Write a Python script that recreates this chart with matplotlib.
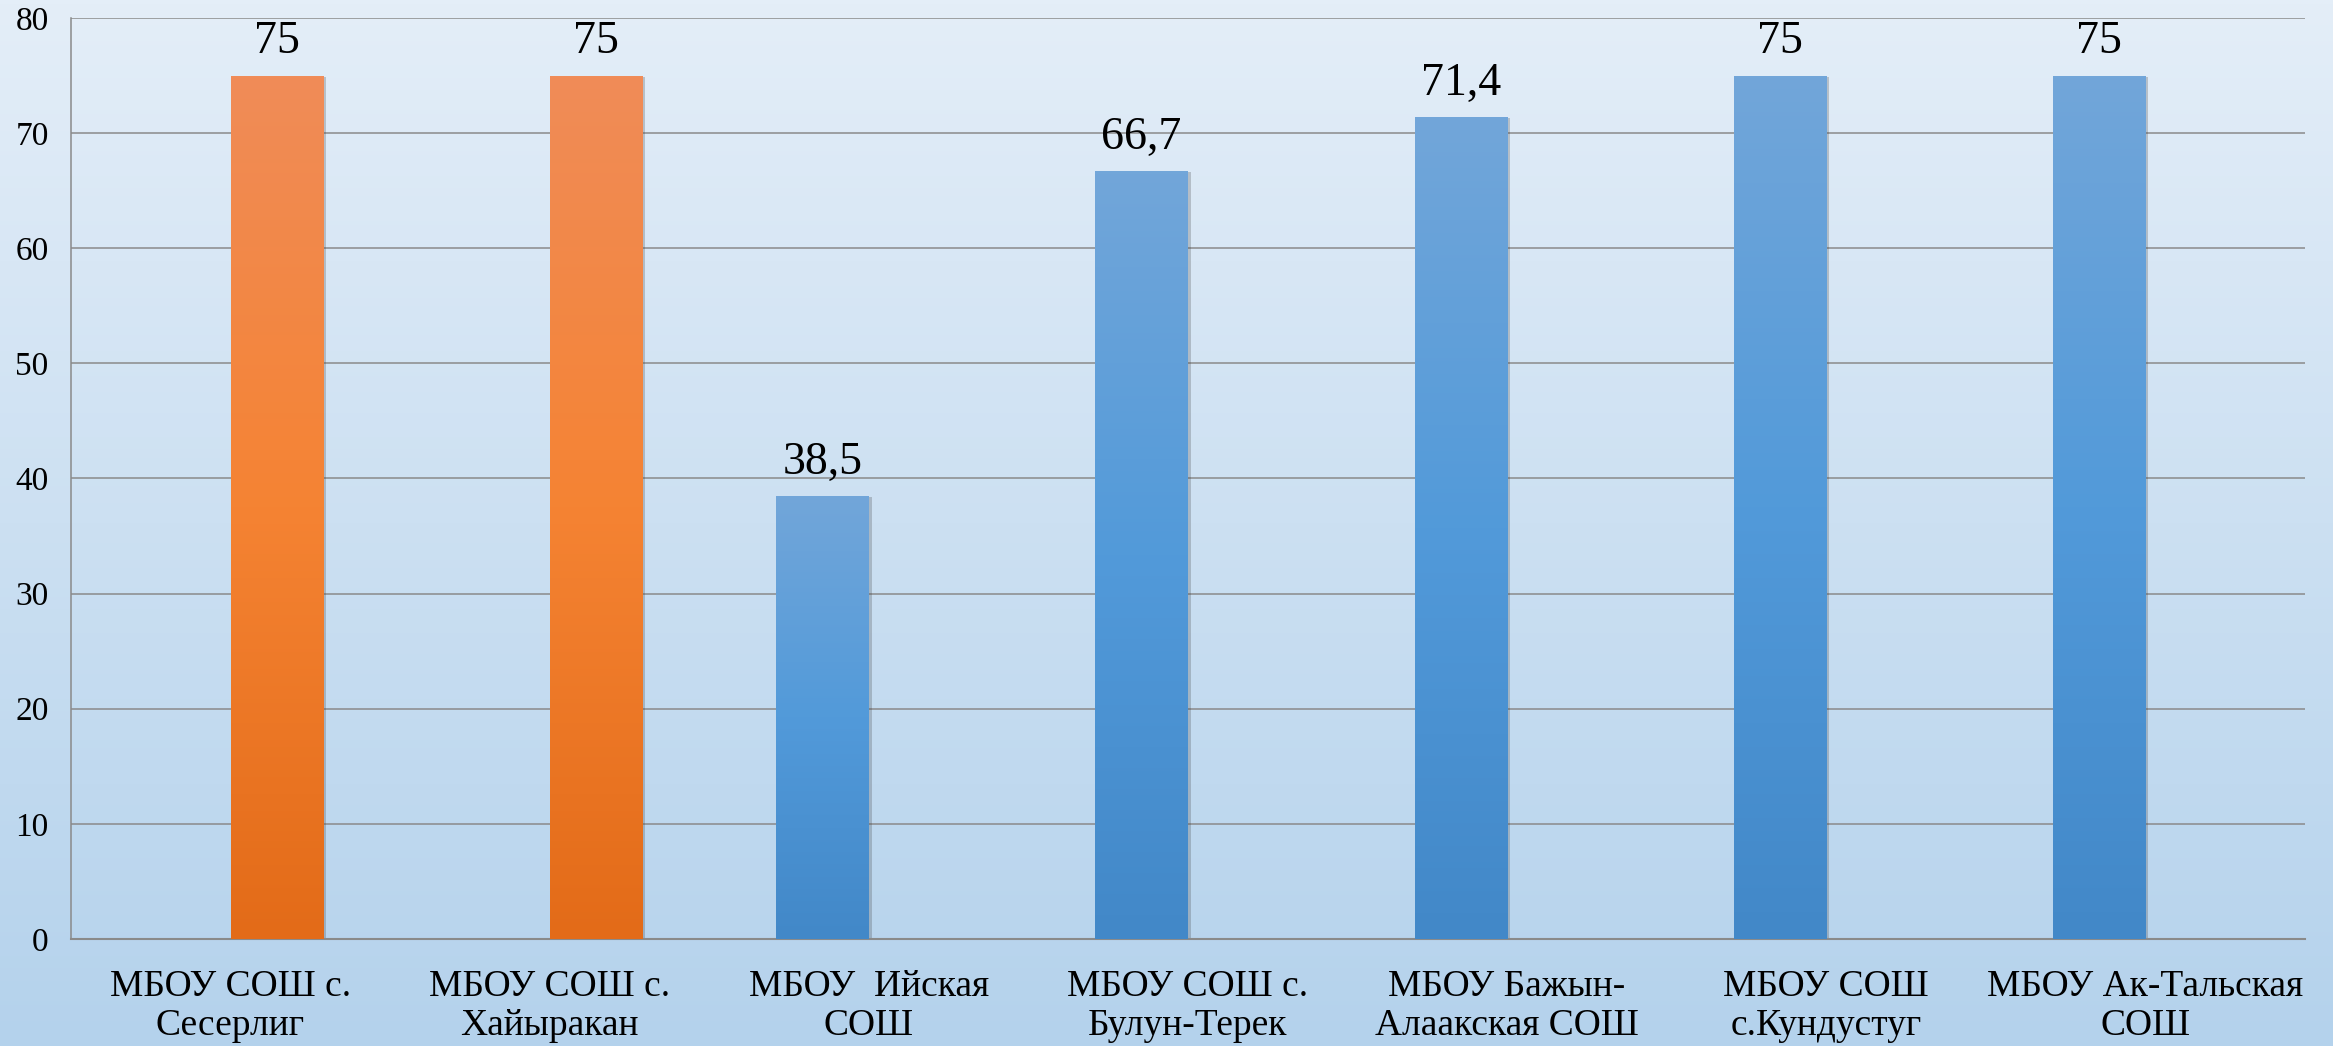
import matplotlib
matplotlib.use("Agg")
import matplotlib.pyplot as plt
import numpy as np
from matplotlib.colors import LinearSegmentedColormap
import matplotlib.patheffects as pe

categories = ["МБОУ СОШ с.\nСесерлиг", "МБОУ СОШ с.\nХайыракан", "МБОУ  Ийская\nСОШ",
              "МБОУ СОШ с.\nБулун-Терек", "МБОУ Бажын-\nАлаакская СОШ", "МБОУ СОШ\nс.Кундустуг",
              "МБОУ Ак-Тальская\nСОШ"]
blue_values = [np.nan, np.nan, 38.5, 66.7, 71.4, 75, 75]
orange_values = [75, 75, np.nan, np.nan, np.nan, np.nan, np.nan]
blue_labels = ["", "", "38,5", "66,7", "71,4", "75", "75"]
orange_labels = ["75", "75", "", "", "", "", ""]

plt.rcParams['font.family'] = ['Liberation Serif', 'DejaVu Serif']

fig = plt.figure(figsize=(23.33, 10.46), dpi=100)

# background gradient
bg = fig.add_axes([0, 0, 1, 1], zorder=-10)
bg_cmap = LinearSegmentedColormap.from_list("bg", ["#e4eef8", "#b4d2ec"])
bg.imshow(np.linspace(0, 1, 256).reshape(-1, 1), aspect='auto', cmap=bg_cmap,
          extent=[0, 1, 0, 1])
bg.axis('off')

ax = fig.add_axes([0.0304, 0.1023, 0.988 - 0.0304, 0.9828 - 0.1023])
ax.patch.set_alpha(0)

x = np.arange(len(categories))
w = 0.29
orange = LinearSegmentedColormap.from_list("or", ["#e36b18", "#f58333", "#f08c58"])
blue = LinearSegmentedColormap.from_list("bl", ["#4288c8", "#529ada", "#72a6d9"])
grad = np.linspace(0, 1, 256).reshape(-1, 1)
shadow = [pe.SimplePatchShadow(offset=(2, -1), alpha=0.25, shadow_rgbFace='#404040')]

for vals, labs, off, cmap in [(blue_values, blue_labels, -w / 2, blue),
                              (orange_values, orange_labels, w / 2, orange)]:
    bars = ax.bar(x + off, vals, width=w, color='none', zorder=2, path_effects=shadow)
    for b, v, lab in zip(bars, vals, labs):
        if np.isnan(v):
            continue
        x0, y0 = b.get_x(), b.get_y()
        bw, ht = b.get_width(), b.get_height()
        im = ax.imshow(grad, aspect='auto', cmap=cmap, origin='lower',
                       extent=[x0, x0 + bw, y0, y0 + ht], zorder=3)
        im.set_clip_path(b)
        ax.annotate(lab, (x0 + bw / 2, v), xytext=(0, 16), textcoords='offset points',
                    ha='center', va='baseline', fontsize=33, color='black', zorder=4)

ax.set_xlim(-0.5, len(categories) - 0.5)
ax.set_ylim(0, 80)
ax.set_yticks(range(0, 81, 10))
ax.yaxis.grid(True, color='#8a8a8a', linewidth=1.1, zorder=0)
ax.set_axisbelow(True)
ax.set_xticks(x)
ax.set_xticklabels(categories, fontsize=27, linespacing=1.18)
ax.tick_params(axis='x', length=0, pad=22)
ax.tick_params(axis='y', length=0, pad=16, labelsize=24)
for s in ['top', 'right']:
    ax.spines[s].set_visible(False)
ax.spines['left'].set_color('#8a8a8a')
ax.spines['bottom'].set_color('#8a8a8a')
ax.spines['left'].set_linewidth(1.1)
ax.spines['bottom'].set_linewidth(1.5)

fig.savefig("out.png", dpi=100)
